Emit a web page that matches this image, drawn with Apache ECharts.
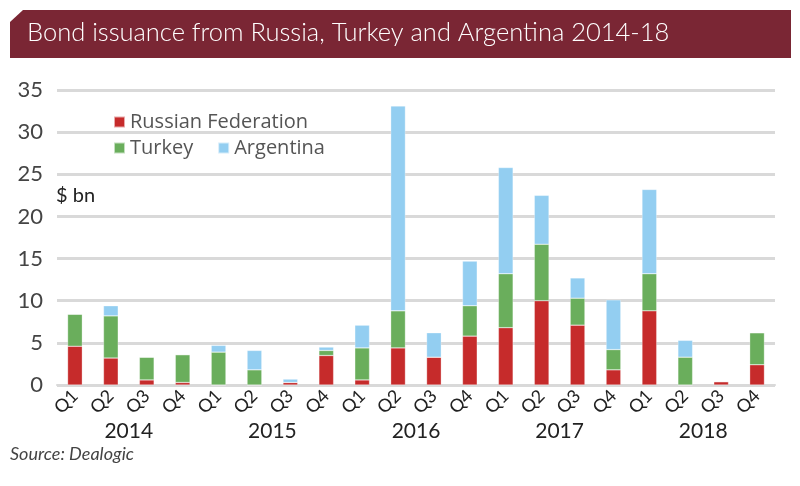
<!DOCTYPE html>
<html>
<head>
<meta charset="utf-8">
<script src="https://cdn.jsdelivr.net/npm/echarts@6/dist/echarts.min.js"></script>
<style>
  html, body { margin: 0; padding: 0; background: #fff; }
  #chart { width: 800px; height: 486px; }
</style>
</head>
<body>
<div id="chart"></div>
<script>
// quarters 2014-2018
const quarters = ['Q1','Q2','Q3','Q4','Q1','Q2','Q3','Q4','Q1','Q2','Q3','Q4','Q1','Q2','Q3','Q4','Q1','Q2','Q3','Q4'];
const years = ['2014', '2015', '2016', '2017', '2018'];

// $ bn
const russia    = [4.6, 3.2, 0.6, 0.3, 0,   0,   0.3, 3.5, 0.6, 4.4, 3.3, 5.8, 6.8, 10.0, 7.1, 1.8, 8.8, 0,   0.4, 2.4];
const turkey    = [3.8, 5.0, 2.7, 3.3, 3.9, 1.8, 0,   0.6, 3.8, 4.4, 0,   3.6, 6.4, 6.7,  3.2, 2.4, 4.4, 3.3, 0,   3.8];
const argentina = [0,   1.2, 0,   0,   0.8, 2.3, 0.4, 0.4, 2.7, 24.3, 2.9, 5.3, 12.6, 5.8, 2.4, 5.9, 10.0, 2.0, 0,  0];

const yTicks = [0, 5, 10, 15, 20, 25, 30, 35];

const FONT = 'Lato, "Open Sans", sans-serif';
const LEGEND_FONT = '"Open Sans", Lato, sans-serif';
const colors = { russia: '#c62b2b', turkey: '#6aae5c', argentina: '#93cef1' };

const chart = echarts.init(document.getElementById('chart'));

const barStyle = c => ({ color: c, borderColor: 'rgba(255,255,255,0.6)', borderWidth: 0.5 });

const option = {
  animation: false,
  grid: { left: 57, right: 25, top: 90, bottom: 101 },
  legend: [
    {
      data: ['Russian Federation'],
      left: 108, top: 107,
      itemWidth: 11, itemHeight: 11, icon: 'rect', itemGap: 5,
      textStyle: { fontFamily: LEGEND_FONT, fontSize: 20, color: '#555' }
    },
    {
      data: ['Turkey', 'Argentina'],
      left: 108, top: 133, itemGap: 24,
      itemWidth: 11, itemHeight: 11, icon: 'rect',
      textStyle: { fontFamily: LEGEND_FONT, fontSize: 20, color: '#555' }
    }
  ],
  xAxis: [
    {
      type: 'category',
      data: quarters,
      axisLine: { lineStyle: { color: '#d9d9d9', width: 2 } },
      axisTick: { show: false },
      axisLabel: { rotate: 45, fontFamily: FONT, fontSize: 18, color: '#222', margin: 8 }
    },
    {
      type: 'category',
      data: years,
      position: 'bottom',
      offset: 28,
      axisLine: { show: false },
      axisTick: { show: false },
      axisLabel: { fontFamily: FONT, fontSize: 21, color: '#222', margin: 8 }
    }
  ],
  yAxis: {
    type: 'value',
    min: yTicks[0], max: yTicks[yTicks.length - 1], interval: 5,
    axisLine: { show: false },
    axisTick: { show: false },
    splitLine: { lineStyle: { color: '#d9d9d9', width: 3 } },
    axisLabel: { fontFamily: FONT, fontSize: 22, color: '#444', margin: 14 }
  },
  series: [
    { name: 'Russian Federation', type: 'bar', stack: 'total', data: russia, barWidth: '41%', itemStyle: barStyle(colors.russia) },
    { name: 'Turkey', type: 'bar', stack: 'total', data: turkey, itemStyle: barStyle(colors.turkey) },
    { name: 'Argentina', type: 'bar', stack: 'total', data: argentina, itemStyle: barStyle(colors.argentina) }
  ],
  graphic: [
    {
      type: 'polygon',
      shape: { points: [[10, 22], [23, 10], [791, 10], [791, 58], [10, 58]] },
      style: { fill: '#7a2634' },
      z: 1
    },
    {
      type: 'text', left: 27, top: 20, z: 2,
      style: { text: 'Bond issuance from Russia, Turkey and Argentina 2014-18', fill: '#fff', font: '300 25.5px ' + FONT }
    },
    {
      type: 'text', left: 56, top: 186,
      style: { text: '$ bn', fill: '#222', font: '20px ' + FONT }
    },
    {
      type: 'text', left: 10, top: 445,
      style: { text: 'Source: Dealogic', fill: '#444', font: 'italic 18px ' + FONT }
    }
  ]
};

chart.setOption(option);
</script>
</body>
</html>
